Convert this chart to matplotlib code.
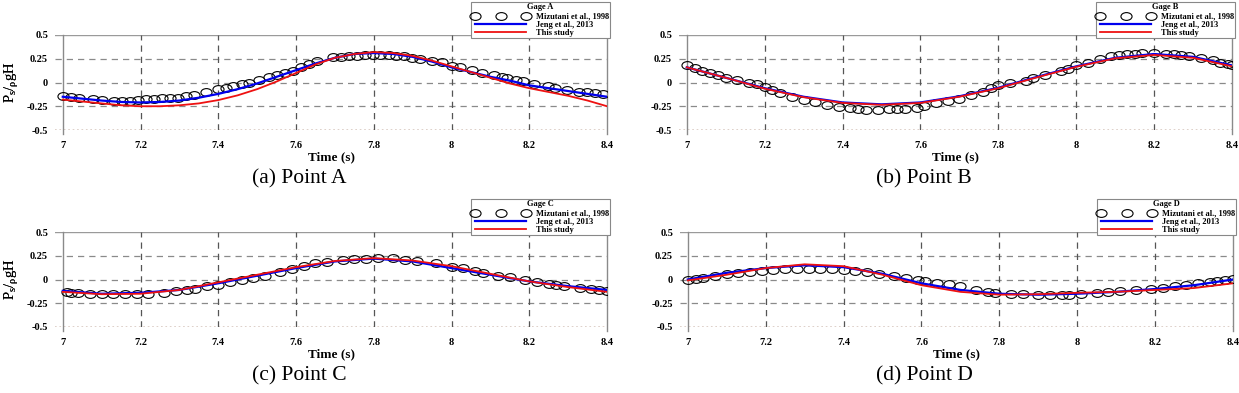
import matplotlib
matplotlib.use('Agg')
import matplotlib.pyplot as plt
from matplotlib.path import Path
from matplotlib.transforms import Affine2D

plt.rcParams['font.family'] = ['Liberation Serif', 'DejaVu Serif']
plt.rcParams['mathtext.fontset'] = 'custom'
plt.rcParams['mathtext.rm'] = 'Liberation Serif'
plt.rcParams['mathtext.it'] = 'Liberation Serif:italic'

# ---- Gage A ----
t_a_exp = [7.000, 7.020, 7.041, 7.077, 7.102, 7.133, 7.153, 7.174, 7.194, 7.215,
           7.235, 7.255, 7.276, 7.296, 7.317, 7.337, 7.368, 7.399, 7.419, 7.439,
           7.460, 7.480, 7.506, 7.531, 7.552, 7.572, 7.593, 7.613, 7.634, 7.654,
           7.695, 7.715, 7.736, 7.756, 7.777, 7.797, 7.817, 7.838, 7.858, 7.879,
           7.899, 7.920, 7.950, 7.976, 8.001, 8.022, 8.053, 8.078, 8.109, 8.129,
           8.144, 8.165, 8.185, 8.211, 8.247, 8.267, 8.298, 8.328, 8.349, 8.369, 8.390]
p_a_exp = [-0.140, -0.151, -0.161, -0.175, -0.182, -0.193, -0.193, -0.193, -0.186, -0.175,
           -0.175, -0.165, -0.161, -0.158, -0.147, -0.133, -0.105, -0.070, -0.053, -0.035,
           -0.018, 0.000, 0.025, 0.053, 0.077, 0.098, 0.123, 0.158, 0.193, 0.228,
           0.270, 0.270, 0.274, 0.281, 0.288, 0.291, 0.291, 0.288, 0.281, 0.274,
           0.263, 0.246, 0.228, 0.211, 0.175, 0.158, 0.130, 0.105, 0.077, 0.053,
           0.046, 0.025, 0.011, -0.011, -0.035, -0.053, -0.077, -0.095, -0.105, -0.112, -0.123]
t_a_line = [7.0, 7.05, 7.1, 7.15, 7.2, 7.25, 7.3, 7.35, 7.4, 7.45, 7.5, 7.55, 7.6, 7.65, 7.7,
            7.75, 7.8, 7.85, 7.9, 7.95, 8.0, 8.05, 8.1, 8.15, 8.2, 8.25, 8.3, 8.35, 8.4]
p_a_jeng = [-0.15, -0.17, -0.19, -0.205, -0.21, -0.205, -0.19, -0.16, -0.12, -0.07, -0.01, 0.06,
            0.13, 0.20, 0.26, 0.30, 0.31, 0.30, 0.27, 0.22, 0.16, 0.11, 0.06, 0.02, -0.03,
            -0.06, -0.09, -0.12, -0.15]
p_a_this = [-0.18, -0.20, -0.22, -0.24, -0.25, -0.25, -0.24, -0.22, -0.185, -0.135, -0.07, 0.01,
            0.10, 0.19, 0.26, 0.30, 0.32, 0.31, 0.28, 0.23, 0.17, 0.11, 0.05, -0.01, -0.06,
            -0.10, -0.14, -0.19, -0.25]

# ---- Gage B ----
t_b_exp = [7.00, 7.02, 7.04, 7.06, 7.08, 7.10, 7.13, 7.16, 7.18, 7.20, 7.22, 7.24, 7.27, 7.30,
           7.33, 7.36, 7.39, 7.42, 7.44, 7.46, 7.49, 7.52, 7.54, 7.56, 7.59, 7.61, 7.64, 7.67,
           7.70, 7.73, 7.76, 7.78, 7.80, 7.83, 7.87, 7.89, 7.92, 7.96, 7.98, 8.00, 8.03, 8.06,
           8.09, 8.11, 8.13, 8.15, 8.17, 8.20, 8.23, 8.25, 8.27, 8.29, 8.32, 8.35, 8.37, 8.39, 8.40]
p_b_exp = [0.18, 0.15, 0.12, 0.10, 0.08, 0.05, 0.03, 0.00, -0.02, -0.05, -0.08, -0.11, -0.15, -0.18,
           -0.21, -0.24, -0.26, -0.27, -0.28, -0.285, -0.29, -0.28, -0.28, -0.28, -0.27, -0.25, -0.22,
           -0.19, -0.17, -0.13, -0.10, -0.06, -0.03, -0.01, 0.02, 0.05, 0.08, 0.12, 0.14, 0.18, 0.21,
           0.25, 0.28, 0.29, 0.30, 0.305, 0.31, 0.31, 0.30, 0.30, 0.29, 0.28, 0.26, 0.24, 0.21, 0.19, 0.18]
t_line = [7.0, 7.1, 7.2, 7.3, 7.4, 7.5, 7.6, 7.7, 7.8, 7.9, 8.0, 8.1, 8.2, 8.3, 8.4]
p_b_jeng = [0.16, 0.05, -0.06, -0.15, -0.21, -0.23, -0.21, -0.145, -0.055, 0.06, 0.17, 0.26, 0.30, 0.27, 0.18]
p_b_this = [0.16, 0.05, -0.065, -0.155, -0.215, -0.235, -0.215, -0.15, -0.06, 0.055, 0.165, 0.255, 0.29, 0.26, 0.17]

# ---- Gage C ----
t_c_exp = [7.01, 7.02, 7.04, 7.07, 7.10, 7.13, 7.16, 7.19, 7.22, 7.26, 7.29, 7.32, 7.34, 7.37,
           7.40, 7.43, 7.46, 7.49, 7.52, 7.56, 7.59, 7.62, 7.65, 7.68, 7.72, 7.75, 7.78, 7.81,
           7.85, 7.88, 7.91, 7.96, 8.00, 8.03, 8.06, 8.08, 8.12, 8.15, 8.19, 8.22, 8.25, 8.27,
           8.29, 8.33, 8.36, 8.38, 8.40]
p_c_exp = [-0.13, -0.14, -0.145, -0.15, -0.15, -0.15, -0.15, -0.155, -0.15, -0.145, -0.12, -0.11,
           -0.10, -0.07, -0.06, -0.03, -0.01, 0.02, 0.04, 0.08, 0.11, 0.14, 0.17, 0.18, 0.21, 0.22,
           0.22, 0.225, 0.225, 0.21, 0.20, 0.17, 0.13, 0.12, 0.09, 0.07, 0.04, 0.03, 0.00, -0.03,
           -0.05, -0.06, -0.07, -0.09, -0.10, -0.11, -0.12]
p_c_jeng = [-0.12, -0.15, -0.14, -0.11, -0.04, 0.04, 0.12, 0.19, 0.22, 0.19, 0.12, 0.05, -0.02, -0.07, -0.11]
p_c_this = [-0.13, -0.155, -0.15, -0.11, -0.03, 0.05, 0.13, 0.195, 0.225, 0.20, 0.14, 0.06, -0.02, -0.08, -0.13]

# ---- Gage D ----
t_d_exp = [7.00, 7.02, 7.04, 7.07, 7.10, 7.13, 7.16, 7.19, 7.22, 7.25, 7.28, 7.31, 7.34, 7.37,
           7.40, 7.43, 7.46, 7.49, 7.53, 7.56, 7.59, 7.61, 7.64, 7.67, 7.70, 7.74, 7.77, 7.79,
           7.83, 7.86, 7.90, 7.93, 7.96, 7.98, 8.01, 8.05, 8.08, 8.11, 8.15, 8.19, 8.22, 8.25,
           8.28, 8.31, 8.34, 8.36, 8.38, 8.40]
p_d_exp = [0.00, 0.01, 0.02, 0.04, 0.06, 0.07, 0.08, 0.09, 0.10, 0.115, 0.115, 0.11, 0.115, 0.11,
           0.10, 0.09, 0.08, 0.06, 0.04, 0.02, 0.00, -0.02, -0.04, -0.05, -0.07, -0.11, -0.13, -0.14,
           -0.15, -0.155, -0.16, -0.16, -0.16, -0.16, -0.155, -0.145, -0.13, -0.12, -0.11, -0.10,
           -0.09, -0.07, -0.06, -0.04, -0.03, -0.02, 0.00, 0.01]
p_d_jeng = [0.00, 0.07, 0.12, 0.15, 0.13, 0.06, -0.04, -0.11, -0.15, -0.16, -0.15, -0.13, -0.10, -0.06, 0.00]
p_d_this = [-0.01, 0.05, 0.12, 0.16, 0.14, 0.05, -0.06, -0.13, -0.16, -0.155, -0.14, -0.13, -0.11, -0.09, -0.04]

panels = [
    ('A', '(a) Point A', t_a_exp, p_a_exp, t_a_line, p_a_jeng, p_a_this),
    ('B', '(b) Point B', t_b_exp, p_b_exp, t_line, p_b_jeng, p_b_this),
    ('C', '(c) Point C', t_c_exp, p_c_exp, t_line, p_c_jeng, p_c_this),
    ('D', '(d) Point D', t_d_exp, p_d_exp, t_line, p_d_jeng, p_d_this),
]

# flattened open circle, like the squashed markers of the original
ellipse = Affine2D().scale(1.0, 0.7).transform_path(Path.unit_circle())

W, H = 1239, 393
fig = plt.figure(figsize=(W / 100, H / 100), dpi=100)

# axes boxes in pixels: left, top, right, bottom
boxes = [(55, 35, 607, 130), (679, 35, 1232, 130),
         (55, 232, 607, 327), (680, 232, 1233, 327)]

xticks = [7, 7.2, 7.4, 7.6, 7.8, 8, 8.2, 8.4]
xticklabels = ['7', '7.2', '7.4', '7.6', '7.8', '8', '8.2', '8.4']
yticks = [-0.5, -0.25, 0, 0.25, 0.5]
yticklabels = ['-0.5', '-0.25', '0', '0.25', '0.5']

for (gage, caption, te, pe, tl, pj, ps), (l, t, r, b) in zip(panels, boxes):
    ax = fig.add_axes([l / W, 1 - b / H, (r - l) / W, (b - t) / H])
    ax.set_xlim(6.98, 8.4)
    ax.set_ylim(-0.5, 0.5)
    for s in ax.spines.values():
        s.set_visible(False)

    # grid lines
    ax.axhline(0.5, color='#9a9a9a', lw=1.0, zorder=1)
    for yv in [0.25, 0, -0.25]:
        ax.axhline(yv, color='#8a8a8a', lw=0.9, ls=(0, (5, 4)), zorder=1)
    ax.axhline(-0.5, color='#d8c8c0', lw=1.2, ls=':', zorder=1)
    for xv in [7.2, 7.4, 7.6, 7.8, 8.0, 8.2]:
        ax.axvline(xv, color='#555555', lw=0.9, ls=(0, (5, 4)), zorder=1)
    ax.plot([7, 7], [-0.54, 0.5], color='#8a8a8a', lw=1.0, clip_on=False, zorder=1)
    ax.plot([8.4, 8.4], [-0.54, 0.5], color='#8a8a8a', lw=1.0, clip_on=False, zorder=1)

    ax.plot(te, pe, ls='none', marker=ellipse, mfc='none', mec='black', ms=8, mew=0.8,
            label='Mizutani et al., 1998', zorder=3)
    ax.plot(tl, pj, color='#0000ee', lw=1.6, label='Jeng et al., 2013', zorder=4)
    ax.plot(tl, ps, color='#ee1111', lw=1.3, label='This study', zorder=5)

    ax.set_xticks(xticks)
    ax.set_xticklabels(xticklabels, fontsize=7.5, fontweight='bold')
    ax.set_yticks(yticks)
    ax.set_yticklabels(yticklabels, fontsize=7.5, fontweight='bold')
    ax.tick_params(length=0, pad=5)
    ax.tick_params(axis='x', pad=8)
    ax.set_xlabel('Time (s)', fontsize=9.5, fontweight='bold', labelpad=1)

    leg = ax.legend(loc='upper right', bbox_to_anchor=(1.006, 1.35), title='Gage ' + gage,
                    title_fontproperties={'size': 6, 'weight': 'bold'},
                    numpoints=3, handlelength=6.8, labelspacing=0.0, borderpad=0.2,
                    handletextpad=0.8, borderaxespad=0, fancybox=False, framealpha=1,
                    edgecolor='#888888', prop={'size': 6, 'weight': 'bold'})
    leg.get_frame().set_linewidth(0.8)
    leg._legend_box.sep = 1

    fig.text(12 / W, 1 - ((t + b) / 2) / H, r'$\mathrm{P_s/_{\rho}gH}$', rotation=90,
             ha='center', va='center', fontsize=10.5)
    fig.text(((l + r) / 2 - 32) / W, 1 - (b + 49) / H, caption, ha='center', va='center',
             fontsize=15.5)

fig.savefig('out.png', dpi=100)
